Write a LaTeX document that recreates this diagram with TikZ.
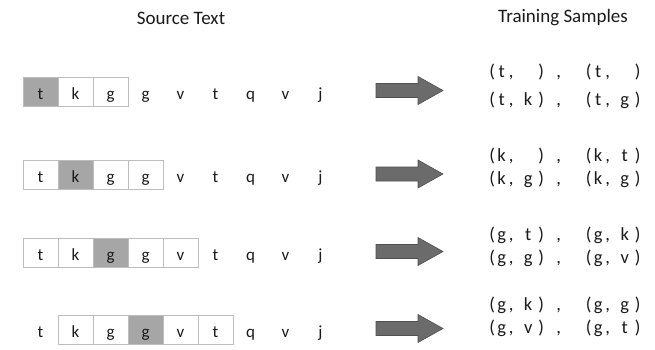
\documentclass[tikz,border=0pt]{standalone}
\usepackage{fontspec}
\setmainfont{Carlito}
\usetikzlibrary{positioning}
\definecolor{Sombra}{HTML}{A6A6A6}
\definecolor{Borde}{HTML}{BDBDBD}
\definecolor{Flecha}{HTML}{6B6B6B}
\definecolor{FlechaBorde}{HTML}{505050}
\definecolor{Tinta}{HTML}{1A1A1A}
\newcommand{\muestra}[2]{\makebox[8pt]{(}\makebox[11pt]{#1}\makebox[8pt]{,}\hspace{4pt}\makebox[18pt]{#2}\makebox[8pt]{)}}
\tikzset{
  libre/.style={inner sep=0pt,minimum width=35pt,minimum height=29pt,text height=15.5pt,text depth=0pt,font=\fontsize{17}{19}\selectfont,text=Tinta},
  celda/.style={libre,draw=Borde,line width=0.9pt,fill=white},
  sombra/.style={celda,fill=Sombra},
  titulo/.style={font=\fontsize{19}{22}\selectfont,text=Tinta},
  muestrario/.style={inner sep=0pt,anchor=base west,font=\fontsize{18.5}{20}\selectfont,text=Tinta},
  flecha/.style={fill=Flecha,draw=FlechaBorde,line width=0.6pt}
}
\begin{document}
\begin{tikzpicture}[x=1pt,y=-1pt]
  \useasboundingbox (0,0) rectangle (655,349);
  \node[titulo] (fuente) at (181,18) {Source Text};
  \node[titulo] (muestras) at (563,18) {Training Samples};
  % ventanas sobre el texto
  \foreach \r/\y/\a/\b/\s in {1/91.5/0/2/0, 2/175/0/3/1, 3/252.5/0/4/2, 4/329.5/1/5/3} {
    \foreach \c [count=\i from 0] in {t,k,g,g,v,t,q,v,j} {
      \ifnum\i=\s \def\estilo{sombra}\else
        \ifnum\i<\a \def\estilo{libre}\else
          \ifnum\i>\b \def\estilo{libre}\else \def\estilo{celda}\fi\fi\fi
      \node[\estilo] (l\r-\i) at (40.5+35*\i,\y) {\c};
    }
    \draw[flecha] (376,\y-8) -- (418,\y-8) -- (418,\y-15) -- (443,\y-1)
      -- (418,\y+13) -- (418,\y+6) -- (376,\y+6) -- cycle;
  }
  % pares de entrenamiento
  \foreach \r/\ya/\yb/\c/\pa/\pb/\pc/\pd in {1/77/105/t/{}/{}/k/g, 2/161/184/k/{}/t/g/g,
      3/240/263/g/t/k/g/v, 4/310/333/g/k/g/v/t} {
    \node[muestrario] (m\r-1) at (488,\ya) {\muestra{\c}{\pa}\makebox[27pt]{,}};
    \node[muestrario] (m\r-2) at (584.5,\ya) {\muestra{\c}{\pb}};
    \node[muestrario] (m\r-3) at (488,\yb) {\muestra{\c}{\pc}\makebox[27pt]{,}};
    \node[muestrario] (m\r-4) at (584.5,\yb) {\muestra{\c}{\pd}};
  }
\end{tikzpicture}
\end{document}
